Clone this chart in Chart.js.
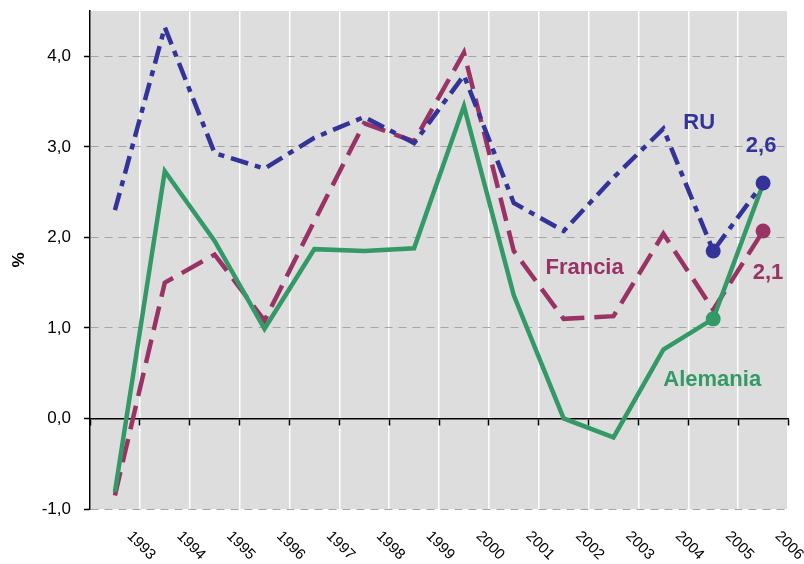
<!DOCTYPE html>
<html>
<head>
<meta charset="utf-8">
<script src="https://cdn.jsdelivr.net/npm/chart.js@4/dist/chart.umd.min.js"></script>
<style>
    html, body { margin: 0; padding: 0; background: #ffffff; }
    #wrap { width: 804px; height: 564px; }
</style>
</head>
<body>
<div id="wrap"><canvas id="gdpChart" width="804" height="564"></canvas></div>
<script>
// Years on the category axis
const years = ['1993', '1994', '1995', '1996', '1997', '1998', '1999',
               '2000', '2001', '2002', '2003', '2004', '2005', '2006'];

// Series values (%)
const ruValues       = [2.30, 4.32, 2.93, 2.76, 3.10, 3.33, 3.04, 3.79, 2.38, 2.07, 2.66, 3.20, 1.85, 2.60];
const franciaValues  = [-0.85, 1.50, 1.81, 1.08, 2.18, 3.26, 3.06, 4.04, 1.85, 1.10, 1.13, 2.04, 1.20, 2.07];
const alemaniaValues = [-0.81, 2.73, 1.96, 0.99, 1.87, 1.85, 1.88, 3.45, 1.36, 0.00, -0.21, 0.76, 1.10, 2.59];

// Y axis tick values
const yTicks = [-1, 0, 1, 2, 3, 4];

// Text labels on the plot: [text, category index, value, colour]
const plotLabels = [
    ['RU', 11.72, 3.26, '#333399'],
    ['2,6', 12.96, 3.01, '#333399'],
    ['Francia', 9.42, 1.66, '#993366'],
    ['2,1', 13.1, 1.61, '#993366'],
    ['Alemania', 11.98, 0.42, '#339966']
];

const fmt = v => v.toFixed(1).replace('.', ',');

// marker only on the last years
function lastDots(values, idx) {
    return values.map((v, i) => idx.includes(i) ? 7.5 : 0);
}

// grey plot background
const plotBackground = {
    id: 'plotBackground',
    beforeDraw(chart) {
        const { ctx, chartArea: a } = chart;
        ctx.save();
        ctx.fillStyle = '#dddddd';
        ctx.fillRect(a.left, a.top, a.right - a.left, a.bottom - a.top);
        ctx.restore();
    }
};

// series names and end values written inside the plot
const seriesText = {
    id: 'seriesText',
    afterDatasetsDraw(chart) {
        const { ctx, scales } = chart;
        ctx.save();
        ctx.font = 'bold 22px "Liberation Sans", Arial, sans-serif';
        ctx.textAlign = 'center';
        ctx.textBaseline = 'middle';
        plotLabels.forEach(([text, xi, yv, color]) => {
            ctx.fillStyle = color;
            ctx.fillText(text, scales.x.getPixelForValue(xi), scales.y.getPixelForValue(yv));
        });
        ctx.restore();
    }
};

const ctx = document.getElementById('gdpChart').getContext('2d');

new Chart(ctx, {
    type: 'line',
    data: {
        labels: years,
        datasets: [
            {
                label: 'RU',
                data: ruValues,
                borderColor: '#333399',
                backgroundColor: '#333399',
                borderWidth: 4.5,
                borderDash: [18, 7, 6, 7],
                pointRadius: lastDots(ruValues, [12, 13]),
                pointBorderWidth: 0,
                tension: 0,
                order: 0
            },
            {
                label: 'Alemania',
                data: alemaniaValues,
                borderColor: '#339966',
                backgroundColor: '#339966',
                borderWidth: 4.5,
                pointRadius: lastDots(alemaniaValues, [12]),
                pointBorderWidth: 0,
                tension: 0,
                order: 1
            },
            {
                label: 'Francia',
                data: franciaValues,
                borderColor: '#993366',
                backgroundColor: '#993366',
                borderWidth: 4.5,
                borderDash: [24, 10],
                pointRadius: lastDots(franciaValues, [13]),
                pointBorderWidth: 0,
                tension: 0,
                order: 2
            }
        ]
    },
    options: {
        responsive: false,
        animation: false,
        layout: {
            padding: { top: 11, right: 16, left: 0, bottom: 0 }
        },
        plugins: {
            legend: { display: false },
            tooltip: { enabled: false }
        },
        scales: {
            x: {
                type: 'category',
                offset: true,
                grid: {
                    color: '#ffffff',
                    lineWidth: 1.5,
                    offset: true,
                    drawTicks: false
                },
                border: { display: false },
                ticks: {
                    autoSkip: false,
                    minRotation: -45,
                    maxRotation: -45,
                    labelOffset: 38,
                    padding: 42,
                    color: '#000000',
                    font: { family: '"Liberation Sans", Arial, sans-serif', size: 15 }
                },
                afterFit(scale) { scale.height = 55; }
            },
            x2: {
                type: 'category',
                axis: 'x',
                labels: years,
                position: { y: 0 },
                offset: true,
                grid: {
                    drawOnChartArea: false,
                    offset: true,
                    tickLength: 6,
                    tickColor: '#000000',
                    tickWidth: 1.5
                },
                border: { color: '#000000', width: 1.5 },
                ticks: { display: false }
            },
            y: {
                min: -1,
                max: 4.5,
                afterBuildTicks(scale) {
                    scale.ticks = yTicks.map(v => ({ value: v }));
                },
                grid: {
                    color: '#a6a6a6',
                    lineWidth: 1,
                    tickLength: 6,
                    tickColor: '#000000',
                    tickWidth: 1.5
                },
                border: { color: '#000000', width: 1.5, dash: [8, 6] },
                ticks: {
                    padding: 13,
                    color: '#000000',
                    font: { family: '"Liberation Sans", Arial, sans-serif', size: 17 },
                    callback: v => fmt(v)
                },
                title: {
                    display: true,
                    text: '%',
                    color: '#000000',
                    padding: { top: 9, bottom: 0 },
                    font: { family: '"Liberation Sans", Arial, sans-serif', size: 17, weight: 'bold' }
                },
                afterFit(scale) {
                    scale.width = 90;
                    scale.paddingTop = 0;
                    scale.paddingBottom = 0;
                }
            }
        }
    },
    plugins: [plotBackground, seriesText]
});
</script>
</body>
</html>
